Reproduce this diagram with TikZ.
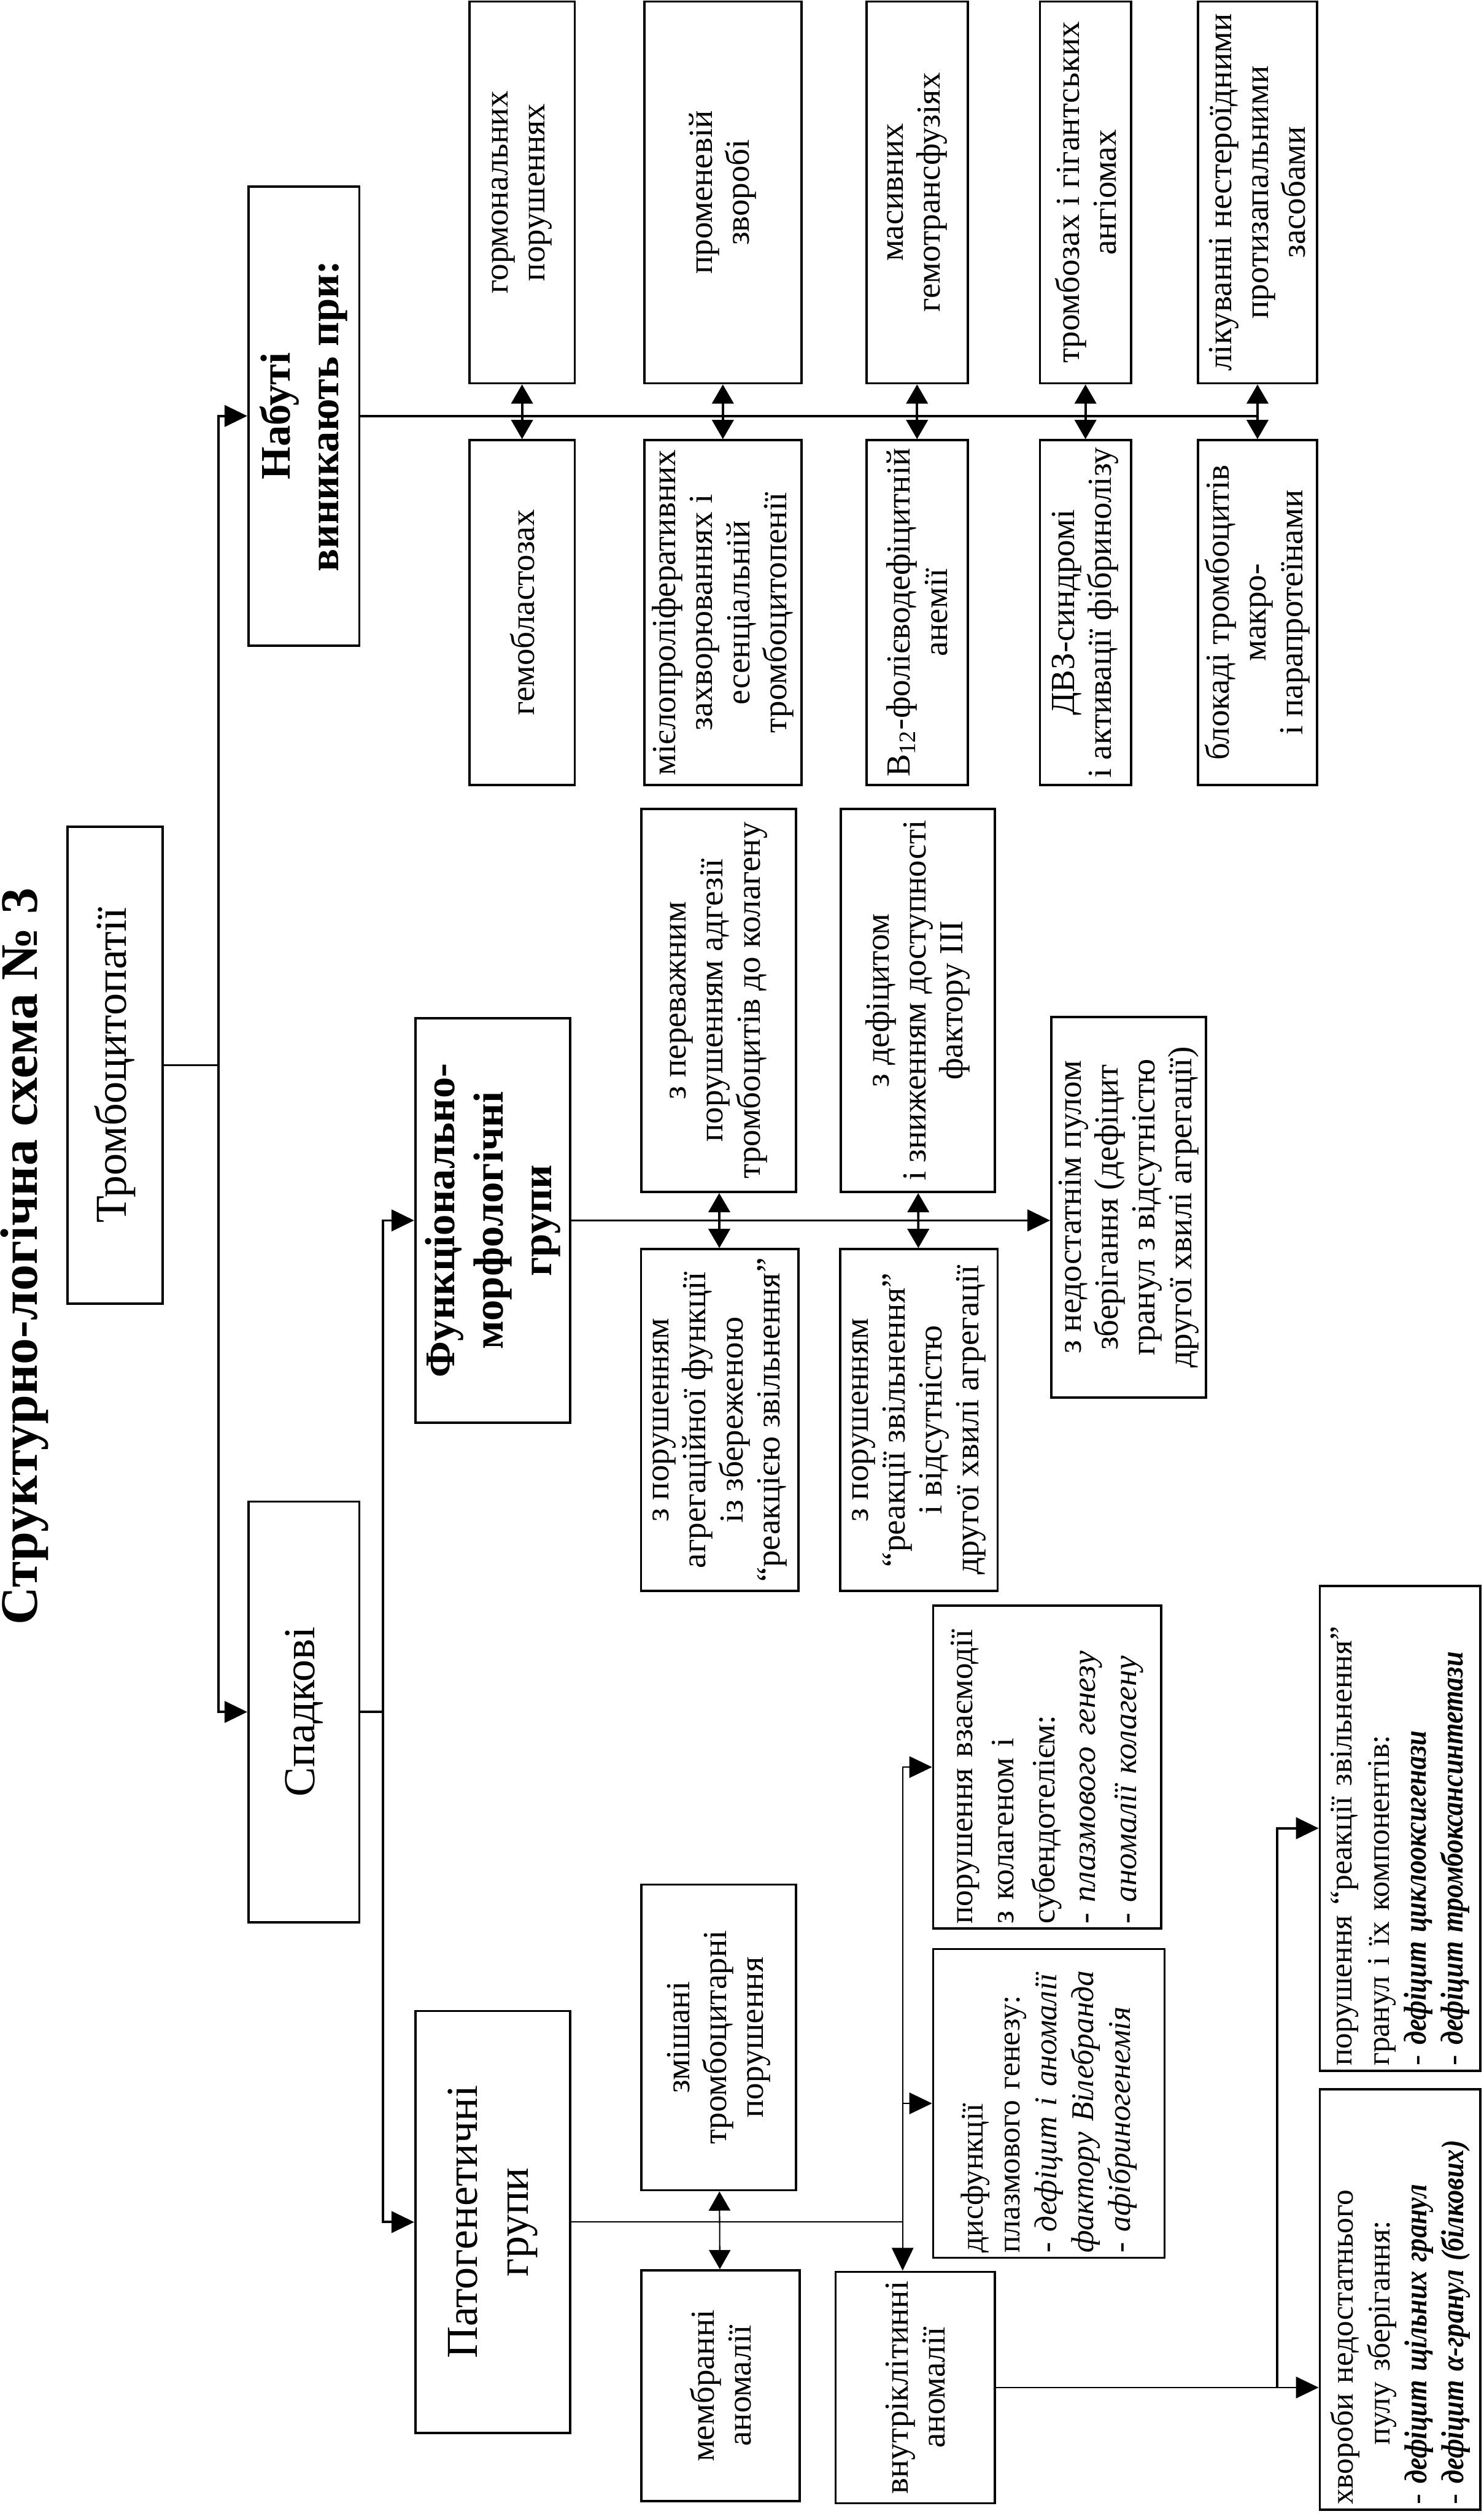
\documentclass[tikz,border=0pt]{standalone}
\usepackage{fontspec}
\usepackage{graphicx}
\setmainfont{Liberation Serif}
\usetikzlibrary{arrows.meta}

\newcommand{\itm}[1]{\scalebox{0.86}[1]{\bfseries\itshape #1}}

\begin{document}
\begin{tikzpicture}[rotate=90,transform shape,
  box/.style={draw,line width=1.1pt,inner sep=0.6mm,align=center,
              font=\fontsize{16}{17.5}\selectfont},
  lbox/.style={box,inner sep=0.8mm,align=left,font=\fontsize{15}{17.5}\selectfont},
  big/.style={draw,line width=1.1pt,inner sep=0.5mm,align=center,
              font=\fontsize{21}{24}\selectfont},
  bigb/.style={big,font=\fontsize{20}{23}\selectfont\bfseries},
  link/.style={line width=1.1pt},
  linkthin/.style={line width=0.6pt},
  arr/.style={-{Triangle[length=3.8mm,width=3.6mm]}},
  darr/.style={{Triangle[length=3.2mm,width=3.6mm]}-{Triangle[length=3.2mm,width=3.6mm]}}]

  \useasboundingbox (0,0) rectangle (41.94,24.75);

  % title and root
  \node[font=\fontsize{25}{30}\selectfont\bfseries,anchor=north,inner sep=0pt]
       (title) at (20.98,24.75) {Структурно-логічна схема № 3};
  \node[big,minimum width=7.96cm,minimum height=1.59cm] (tromb) at (24.17,22.83) {Тромбоцитопатії};

  % first level: acquired / inherited
  \node[bigb,minimum width=7.66cm,minimum height=1.85cm] (nab) at (35.0,19.68) {Набуті\\виникають при:};
  \node[big,minimum width=7.02cm,minimum height=1.85cm] (spad) at (13.38,19.68) {Спадкові};

  \draw[link] (tromb.south) -- ++(0,-0.915) coordinate (b1);
  \draw[link,arr] (b1) -| (nab.north);
  \draw[link,arr] (b1) -| (spad.north);

  % acquired: pairs of causes on both sides of one line
  \draw[link] (nab.south) -- (nab.south |- 0,3.77);
  \foreach \i/\yy/\hh/\up/\dn in {
      1/16.04/1.76/{гормональних\\порушеннях}/{гемобластозах},
      2/12.69/2.62/{променевій\\зворобі}/{мієлопроліферативних\\захворюваннях і\\есенціальній\\тромбоцитопенії},
      3/9.45/1.69/{масивних\\гемотрансфузіях}/{В\textsubscript{12}-фолієводефіцитній\\анемії},
      4/6.64/1.52/{тромбозах і гігантських\\ангіомах}/{ДВЗ-синдромі\\і активації фібринолізу},
      5/3.77/1.98/{лікуванні нестероїдними\\протизапальними\\засобами}/{блокаді тромбоцитів\\макро-\\і парапротеїнами}} {
    \node[box,minimum width=6.37cm,minimum height=\hh cm] (u\i) at (38.73,\yy) {\up};
    \node[box,minimum width=5.75cm,minimum height=\hh cm] (d\i) at (31.72,\yy) {\dn};
    \draw[link,darr] (d\i) -- (u\i);
  }

  % inherited: two groupings
  \node[bigb,minimum width=6.75cm,minimum height=2.58cm] (fm) at (21.58,16.53) {Функціонально-\\морфологічні\\групи};
  \node[big,minimum width=7.04cm,minimum height=2.58cm] (pat) at (4.87,16.53) {Патогенетичні\\групи};

  \draw[link] (spad.south) -- ++(0,-0.375) coordinate (b2);
  \draw[link,arr] (b2) -| (fm.north);
  \draw[link,arr] (b2) -| (pat.north);

  % functional-morphological groups
  \node[box,minimum width=5.70cm,minimum height=2.63cm] (fa1) at (18.25,12.74)
       {з порушенням\\агрегаційної функції\\із збереженою\\“реакцією звільнення”};
  \node[box,minimum width=6.39cm,minimum height=2.58cm] (fb1) at (25.25,12.76)
       {з переважним\\порушенням адгезії\\тромбоцитів до колагену};
  \node[box,minimum width=5.70cm,minimum height=2.63cm] (fa2) at (18.25,9.42)
       {з порушенням\\“реакції звільнення”\\і відсутністю\\другої хвилі агрегації};
  \node[box,minimum width=6.39cm,minimum height=2.57cm] (fb2) at (25.25,9.44)
       {з дефіцитом\\і зниженням доступності\\фактору III};
  \node[box,minimum width=6.35cm,minimum height=2.58cm] (ned) at (21.80,5.92)
       {з недостатнім пулом\\зберігання (дефіцит\\гранул з відсутністю\\другої хвилі агрегації)};

  \draw[link,arr] (fm.south) -- (fm.south |- ned.north);
  \draw[link,darr] (fa1) -- (fb1);
  \draw[link,darr] (fa2) -- (fb2);

  % pathogenetic groups
  \node[box,minimum width=3.85cm,minimum height=2.64cm] (mem) at (2.14,12.73) {мембранні\\аномалії};
  \node[box,minimum width=5.10cm,minimum height=2.58cm] (zm) at (7.95,12.76) {змішані\\тромбоцитарні\\порушення};
  \node[box,minimum width=3.86cm,minimum height=2.66cm] (vnut) at (2.11,9.48) {внутріклітинні\\аномалії};
  \node[lbox,text width=5.23cm,minimum height=3.80cm,font=\fontsize{15.5}{19.5}\selectfont] (vz) at (12.46,7.28)
       {порушення взаємодії\\з колагеном і\\субендотелієм:\\- \textit{плазмового генезу}\\- \textit{аномалії колагену}};
  \node[lbox,text width=4.99cm,minimum height=3.86cm] (dys) at (6.85,7.25)
       {дисфункції\\плазмового генезу:\\- \textit{дефіцит і аномалії}\\\textit{фактору Вілебранда}\\- \textit{афібриногенемія}};
  \node[lbox,text width=7.93cm,minimum height=2.68cm] (porr) at (11.44,1.39)
       {порушення “реакції звільнення”\\гранул і їх компонентів:\\- \itm{дефіцит циклооксигенази}\\- \itm{дефіцит тромбоксансинтетази}};
  \node[lbox,text width=6.85cm,minimum height=2.68cm] (hvor) at (3.58,1.39)
       {хвороби недостатнього\\\hspace*{1cm}пулу зберігання:\\- \itm{дефіцит щільних гранул}\\- \itm{дефіцит α-гранул (білкових)}};

  \draw[linkthin] (pat.south) -- ++(0,-5.53) coordinate (pj);
  \draw[linkthin,darr] (mem) -- (zm);
  \draw[linkthin,arr] (pj) -- (pj -| vnut.east);
  \draw[linkthin,arr] (pj) -| (vz.north);
  \draw[linkthin,arr] (pj -| dys.north) -- (dys.north);

  \draw[linkthin,arr] (vnut.south) -- (vnut.south |- hvor.north);
  \draw[linkthin] (vnut.south) -- ++(0,-4.69) coordinate (vj);
  \draw[link,arr] (vj) -| (porr.north);

\end{tikzpicture}
\end{document}
